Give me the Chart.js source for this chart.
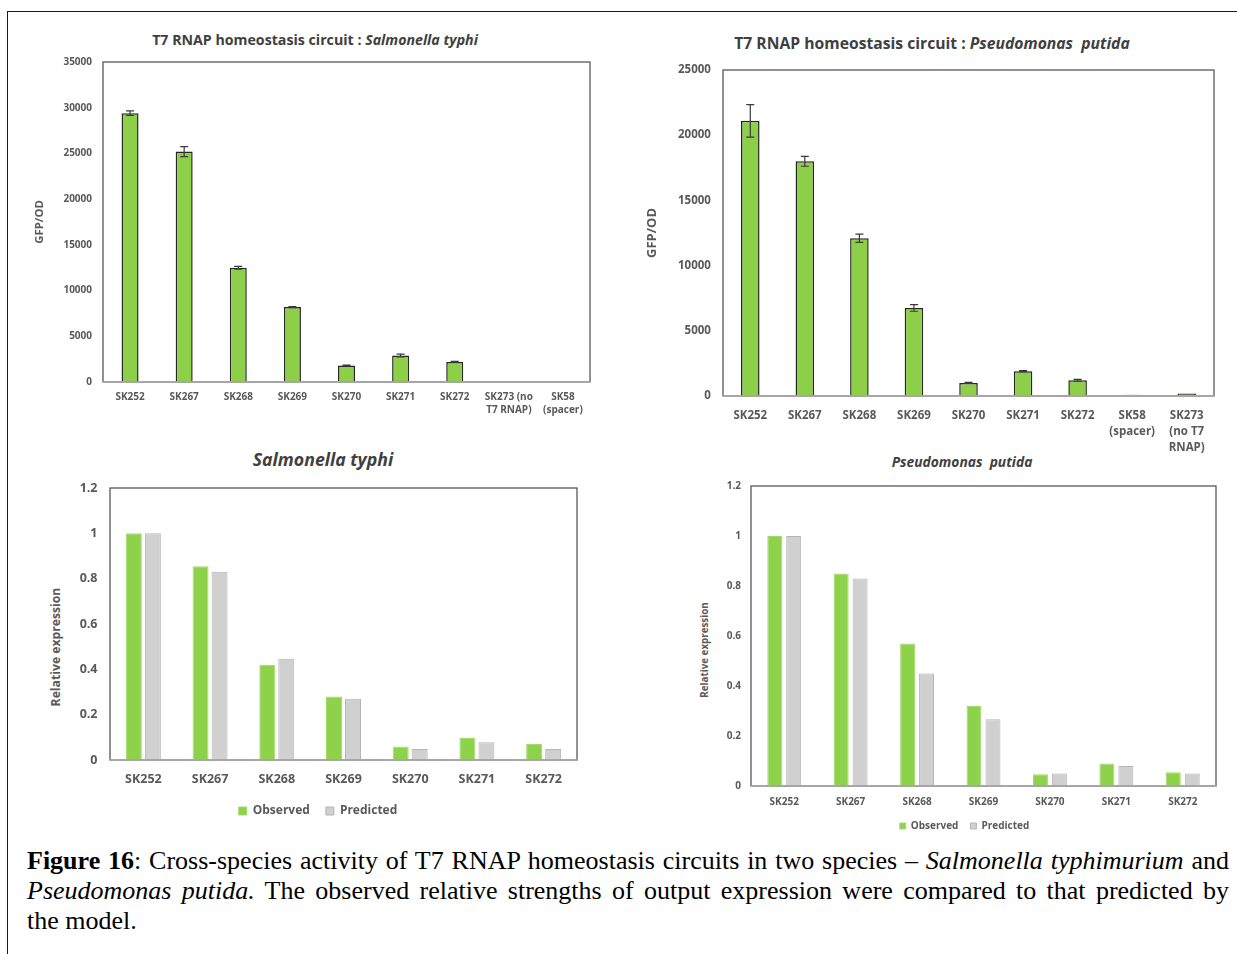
<!DOCTYPE html>
<html>
<head>
<meta charset="utf-8">
<script src="https://cdn.jsdelivr.net/npm/chart.js@4.4.0/dist/chart.umd.min.js"></script>
<style>
html,body{margin:0;padding:0;background:#fff;}
body{width:1237px;height:954px;position:relative;overflow:hidden;}
.frame{position:absolute;left:7px;top:11px;width:1300px;height:1000px;border-top:1px solid #1b1b1b;border-left:1px solid #1b1b1b;}
.cw{position:absolute;}
.ttl{position:absolute;width:600px;text-align:center;font-family:'Open Sans','Noto Sans',sans-serif;font-weight:bold;color:#404040;white-space:nowrap;}
.ytl{position:absolute;width:200px;text-align:center;font-family:'Open Sans','Noto Sans',sans-serif;font-weight:bold;color:#595959;white-space:nowrap;transform:rotate(-90deg);transform-origin:50% 50%;}
.cap{position:absolute;left:27px;top:846px;width:1202px;font-family:'Liberation Serif','Times New Roman',serif;font-size:26px;line-height:30px;color:#000;}
.cap .j{text-align:justify;text-align-last:justify;}
</style>
</head>
<body>
<div class="frame"></div>

<div class="ttl" style="left:15px;top:31px;font-size:14.2px;line-height:18px;">T7 RNAP homeostasis circuit : <i>Salmonella typhi</i></div>
<div class="ttl" style="left:632px;top:33px;font-size:15.7px;line-height:20px;">T7 RNAP homeostasis circuit : <i>Pseudomonas&nbsp; putida</i></div>
<div class="ttl" style="left:23px;top:448px;font-size:17.7px;line-height:22px;"><i>Salmonella typhi</i></div>
<div class="ttl" style="left:662px;top:452px;font-size:13.8px;line-height:20px;"><i>Pseudomonas&nbsp; putida</i></div>

<div class="ytl" id="yt3" style="left:-44px;top:639px;font-size:12.2px;line-height:16px;"></div>
<div class="ytl" id="yt4" style="left:605px;top:643px;font-size:9.8px;line-height:14px;"></div>

<div class="cw" style="left:20px;top:45px;width:580px;height:385px;"><canvas id="c1"></canvas></div>
<div class="cw" style="left:630px;top:51px;width:600px;height:404px;"><canvas id="c2"></canvas></div>
<div class="cw" style="left:30px;top:468px;width:567px;height:359px;"><canvas id="c3"></canvas></div>
<div class="cw" style="left:685px;top:470px;width:551px;height:371px;"><canvas id="c4"></canvas></div>

<div class="cap">
<div class="j"><b>Figure 16</b>: Cross-species activity of T7 RNAP homeostasis circuits in two species – <i>Salmonella typhimurium</i> and</div>
<div class="j"><i>Pseudomonas putida.</i> The observed relative strengths of output expression were compared to that predicted by</div>
<div>the model.</div>
</div>

<script>
// ---------- data ----------
const gfpCatsSal = ['SK252','SK267','SK268','SK269','SK270','SK271','SK272',['SK273 (no','T7 RNAP)'],['SK58','(spacer)']];
const gfpValsSal = [29400, 25200, 12500, 8200, 1800, 2900, 2200, 80, 70];
const gfpErrSal  = [250, 550, 150, 60, 40, 150, 60, 0, 0];

const gfpCatsPse = ['SK252','SK267','SK268','SK269','SK270','SK271','SK272',['SK58','(spacer)'],['SK273','(no T7','RNAP)']];
const gfpValsPse = [21100, 18000, 12100, 6750, 1000, 1900, 1200, 100, 200];
const gfpErrPse  = [1250, 380, 320, 250, 40, 40, 70, 0, 0];

const relCats = ['SK252','SK267','SK268','SK269','SK270','SK271','SK272'];
const obsSal  = [1.0, 0.855, 0.42, 0.28, 0.06, 0.097, 0.071];
const predSal = [1.0, 0.83, 0.447, 0.27, 0.048, 0.078, 0.048];
const obsPse  = [1.0, 0.85, 0.57, 0.32, 0.047, 0.09, 0.055];
const predPse = [1.0, 0.83, 0.45, 0.267, 0.05, 0.08, 0.05];

const gfpMaxSal = 35000, gfpMaxPse = 25000, gfpStep = 5000;
const relMax = 1.2, relStep = 0.2;
const seriesNames = ['Observed', 'Predicted'];
const yTitleGfp = 'GFP/OD', yTitleRel = 'Relative expression';

document.getElementById('yt3').textContent = yTitleRel;
document.getElementById('yt4').textContent = yTitleRel;

// ---------- styles ----------
const FONT = "'Open Sans', 'Noto Sans', sans-serif";
const TXT = '#595959';
const GREEN = '#8DCF48';
const GREY = '#D0D0D0';

const frameBox = {
  id: 'frameBox',
  beforeDatasetsDraw(chart) {
    const {ctx, chartArea: a} = chart;
    ctx.save();
    ctx.strokeStyle = '#4a4a4a';
    ctx.lineWidth = 1.2;
    ctx.strokeRect(a.left, a.top, a.right - a.left, a.bottom - a.top);
    ctx.restore();
  },
  afterDatasetsDraw(chart) {
    const {ctx, chartArea: a} = chart;
    ctx.save();
    ctx.strokeStyle = '#a6a6a6';
    ctx.lineWidth = 2;
    ctx.beginPath();
    ctx.moveTo(a.left, a.bottom);
    ctx.lineTo(a.right, a.bottom);
    ctx.stroke();
    ctx.restore();
  }
};

const errBars = {
  id: 'errBars',
  afterDatasetsDraw(chart, args, o) {
    if (!o || !o.errors) return;
    const {ctx} = chart;
    const y = chart.scales.y;
    const meta = chart.getDatasetMeta(0);
    const vals = chart.data.datasets[0].data;
    ctx.save();
    ctx.strokeStyle = '#3a3a3a';
    ctx.lineWidth = 1.2;
    meta.data.forEach((bar, i) => {
      const e = o.errors[i];
      if (!e) return;
      const x = bar.x;
      const yt = y.getPixelForValue(vals[i] + e);
      const yb = y.getPixelForValue(vals[i] - e);
      const c = o.cap / 2;
      ctx.beginPath();
      ctx.moveTo(x, yt); ctx.lineTo(x, yb);
      ctx.moveTo(x - c, yt); ctx.lineTo(x + c, yt);
      ctx.moveTo(x - c, yb); ctx.lineTo(x + c, yb);
      ctx.stroke();
    });
    ctx.restore();
  }
};

function f(size, lh) { return {family: FONT, weight: 'bold', size: size, lineHeight: lh || 1.2}; }

function gfpChart(id, cats, vals, errs, max, cfg) {
  new Chart(document.getElementById(id), {
    type: 'bar',
    data: {
      labels: cats,
      datasets: [{
        data: vals,
        backgroundColor: GREEN,
        borderColor: '#262626',
        borderWidth: 1.5,
        barPercentage: cfg.barPct,
        categoryPercentage: 1.0
      }]
    },
    plugins: [frameBox, errBars],
    options: {
      responsive: true, maintainAspectRatio: false, animation: false,
      devicePixelRatio: 1,
      layout: {padding: cfg.pad},
      plugins: {
        legend: {display: false}, tooltip: {enabled: false},
        errBars: {errors: errs, cap: 8}
      },
      scales: {
        x: {
          grid: {display: false, drawTicks: false}, border: {display: false},
          ticks: {padding: cfg.xPad, color: TXT, font: f(cfg.xFont, cfg.xLh), maxRotation: 0, autoSkip: false},
          afterFit(s) { s.height = cfg.xH; }
        },
        y: {
          min: 0, max: max,
          grid: {display: false, drawTicks: false}, border: {display: false},
          ticks: {stepSize: gfpStep, padding: cfg.yPad, color: TXT, font: f(cfg.yFont), callback: v => String(v)},
          title: {display: true, text: yTitleGfp, color: TXT, font: f(cfg.tFont), padding: {top: cfg.tPad, bottom: 0}},
          afterFit(s) { s.width = cfg.yW; }
        }
      }
    }
  });
}

function relChart(id, obs, pred, cfg) {
  new Chart(document.getElementById(id), {
    type: 'bar',
    data: {
      labels: relCats,
      datasets: [
        {label: seriesNames[0], data: obs, backgroundColor: '#8ED24B', borderColor: '#A3DA6C', borderWidth: 1,
         barPercentage: cfg.barPct, categoryPercentage: 0.57},
        {label: seriesNames[1], data: pred, backgroundColor: GREY, borderColor: '#B5B5B5', borderWidth: 1,
         barPercentage: cfg.barPct, categoryPercentage: 0.57}
      ]
    },
    plugins: [frameBox],
    options: {
      responsive: true, maintainAspectRatio: false, animation: false,
      devicePixelRatio: 1,
      layout: {padding: cfg.pad},
      plugins: {
        tooltip: {enabled: false},
        legend: {
          position: 'bottom',
          labels: {boxWidth: cfg.box, boxHeight: cfg.box, padding: cfg.lPad, color: TXT, font: f(cfg.lFont)}
        }
      },
      scales: {
        x: {
          grid: {display: false, drawTicks: false}, border: {display: false},
          ticks: {padding: cfg.xPad, color: TXT, font: f(cfg.xFont), maxRotation: 0, autoSkip: false},
          afterFit(s) { s.height = cfg.xH; }
        },
        y: {
          min: 0, max: relMax,
          grid: {display: false, drawTicks: false}, border: {display: false},
          ticks: {stepSize: relStep, padding: cfg.yPad, color: TXT, font: f(cfg.yFont),
                  callback: v => String(Math.round(v * 10) / 10)},
          afterFit(s) { s.width = cfg.yW; }
        },
        yR: {
          position: 'right', display: true,
          grid: {display: false, drawTicks: false}, border: {display: false},
          ticks: {display: false},
          afterFit(s) { s.width = 20; }
        }
      }
    }
  });
}

gfpChart('c1', gfpCatsSal, gfpValsSal, gfpErrSal, gfpMaxSal,
  {barPct: 0.314, pad: {left: 0, top: 0, right: 10, bottom: 0},
   xPad: 8.5, xFont: 10, xLh: 1.3, xH: 48, yPad: 11, yFont: 10, tFont: 11.3, tPad: 13.2, yW: 83});

gfpChart('c2', gfpCatsPse, gfpValsPse, gfpErrPse, gfpMaxPse,
  {barPct: 0.34, pad: {left: 0, top: 0, right: 16, bottom: 0},
   xPad: 12, xFont: 11.5, xLh: 1.39, xH: 59, yPad: 12.1, yFont: 11.5, tFont: 13, tPad: 14.2, yW: 93});

relChart('c3', obsSal, predSal,
  {barPct: 0.84, pad: {left: 9, top: 0, right: 0, bottom: 0},
   xPad: 11.5, xFont: 12.5, xH: 29, yPad: 12.5, yFont: 12.5, yW: 71,
   box: 8, lPad: 16, lFont: 12});

relChart('c4', obsPse, predPse,
  {barPct: 0.79, pad: {left: 8, top: 0, right: 0, bottom: 0},
   xPad: 10, xFont: 10, xH: 23, yPad: 10, yFont: 10, yW: 58,
   box: 6, lPad: 12, lFont: 10});
</script>
</body>
</html>
